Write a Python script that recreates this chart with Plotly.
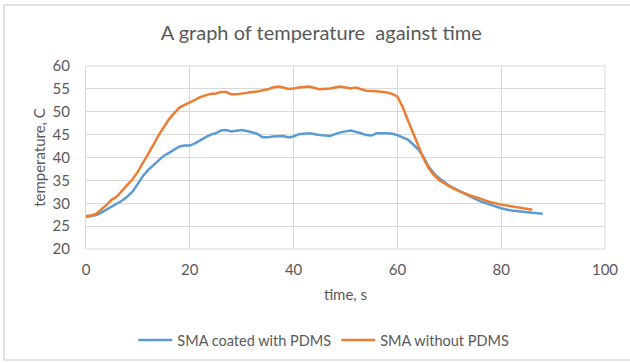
import plotly.graph_objects as go

time_coated = [0, 2, 3, 5, 7, 8, 9, 10, 11, 12, 13, 14, 15, 16, 17, 18, 19, 20, 21, 22, 23, 24, 25, 26, 27, 28, 29, 30,
               31, 32, 33, 34, 35, 36, 37, 38, 39, 40, 41, 43, 45, 47, 49, 51, 53, 54, 55, 56, 58, 59, 60, 61, 62, 63,
               64, 65, 66, 67, 68, 70, 72, 74, 76, 78, 80, 82, 84, 86, 88]
temp_coated = [27.0, 27.4, 28.0, 29.3, 30.6, 31.5, 32.6, 34.3, 36.0, 37.3, 38.4, 39.3, 40.4, 41.0, 41.7, 42.4, 42.6,
               42.6, 43.1, 43.8, 44.4, 45.0, 45.3, 45.9, 46.0, 45.7, 45.8, 46.0, 45.8, 45.5, 45.2, 44.4, 44.4, 44.6,
               44.7, 44.7, 44.4, 44.6, 45.1, 45.3, 44.9, 44.7, 45.5, 45.9, 45.3, 44.9, 44.8, 45.3, 45.3, 45.2, 44.9,
               44.4, 43.9, 42.9, 41.8, 40.2, 38.0, 36.6, 35.5, 33.8, 32.6, 31.5, 30.4, 29.7, 28.9, 28.4, 28.1, 27.9, 27.7]

time_plain = [0, 1, 2, 3, 4, 5, 6, 7, 8, 9, 10, 11, 12, 13, 14, 15, 16, 17, 18, 19, 20, 21, 22, 23, 24, 25, 26, 27, 28,
              29, 30, 31, 32, 33, 34, 35, 36, 37, 38, 39, 40, 41, 43, 45, 47, 49, 51, 52, 54, 56, 58, 59, 60, 61, 62,
              63, 64, 65, 66, 67, 68, 70, 72, 74, 76, 78, 80, 82, 84, 86]
temp_plain = [27.2, 27.3, 27.7, 28.6, 29.7, 30.8, 31.5, 32.8, 34.0, 35.3, 36.9, 38.8, 40.9, 42.8, 44.9, 46.8, 48.4,
              49.7, 50.9, 51.5, 52.0, 52.6, 53.2, 53.5, 53.9, 54.0, 54.3, 54.3, 53.8, 53.8, 54.0, 54.2, 54.3, 54.4,
              54.6, 54.9, 55.3, 55.5, 55.3, 55.0, 55.1, 55.3, 55.5, 54.9, 55.1, 55.5, 55.1, 55.3, 54.6, 54.5, 54.2,
              53.9, 53.3, 51.1, 48.2, 45.3, 42.4, 39.9, 37.7, 36.2, 35.1, 33.7, 32.6, 31.7, 31.0, 30.2, 29.7, 29.3,
              28.9, 28.6]

x_ticks = [0, 20, 40, 60, 80, 100]
y_ticks = [20, 25, 30, 35, 40, 45, 50, 55, 60]

FONT = "Lato"
GREY = "#595959"
GRID = "#d9d9d9"

fig = go.Figure()
fig.add_trace(go.Scatter(x=time_coated, y=temp_coated, mode="lines", name="SMA coated with PDMS",
                         line=dict(color="#5B9BD5", width=2.5)))
fig.add_trace(go.Scatter(x=time_plain, y=temp_plain, mode="lines", name="SMA without PDMS",
                         line=dict(color="#ED7D31", width=2.5)))

W, H = 630, 363
L, R, T, B = 86, 25, 66, 114
pw, ph = W - L - R, H - T - B

fig.update_layout(
    width=W, height=H,
    margin=dict(l=L, r=R, t=T, b=B),
    paper_bgcolor="white", plot_bgcolor="white",
    font=dict(family=FONT, color=GREY, size=14),
    title=dict(text="A graph of temperature  against time", x=0.51, xref="container", y=1 - 33 / H,
               yref="container", xanchor="center", yanchor="middle",
               font=dict(size=20, color=GREY, family=FONT)),
    xaxis=dict(range=[0, 100], tickvals=x_ticks, showgrid=True, gridcolor=GRID, gridwidth=1,
               zeroline=False, showline=False, ticks="", tickfont=dict(size=15, color=GREY),
               ticklabelstandoff=10,
               title=dict(text="time, s", font=dict(size=15, color=GREY), standoff=12)),
    yaxis=dict(range=[20, 60], tickvals=y_ticks, showgrid=True, gridcolor=GRID, gridwidth=1,
               zeroline=False, showline=True, linecolor=GRID, ticks="", tickfont=dict(size=15, color=GREY),
               ticklabelstandoff=12,
               title=dict(text="temperature, C", font=dict(size=15, color=GREY), standoff=3)),
    legend=dict(orientation="h", x=0.514, xref="container", xanchor="center", y=1 - 340 / H,
                yref="container", yanchor="middle", font=dict(size=14.5, color=GREY),
                itemwidth=34, bgcolor="rgba(0,0,0,0)"),
    showlegend=True,
)

fig.add_shape(type="line", xref="paper", yref="paper", x0=0, x1=1, y0=1, y1=1,
              line=dict(color=GRID, width=1))
fig.add_shape(type="line", xref="paper", yref="paper", x0=1, x1=1, y0=0, y1=1,
              line=dict(color=GRID, width=1))
fig.add_shape(type="line", xref="paper", yref="paper", x0=0, x1=1, y0=0, y1=0,
              line=dict(color=GRID, width=1))
# outer chart border
fig.add_shape(type="rect", xref="paper", yref="paper",
              x0=(4 - L) / pw, x1=(W + 5 - L) / pw,
              y0=(H - 360 - B) / ph, y1=(H - 5 - B) / ph,
              line=dict(color="#d9d9d9", width=1.5), fillcolor="rgba(0,0,0,0)")

fig.write_html("out.html")
